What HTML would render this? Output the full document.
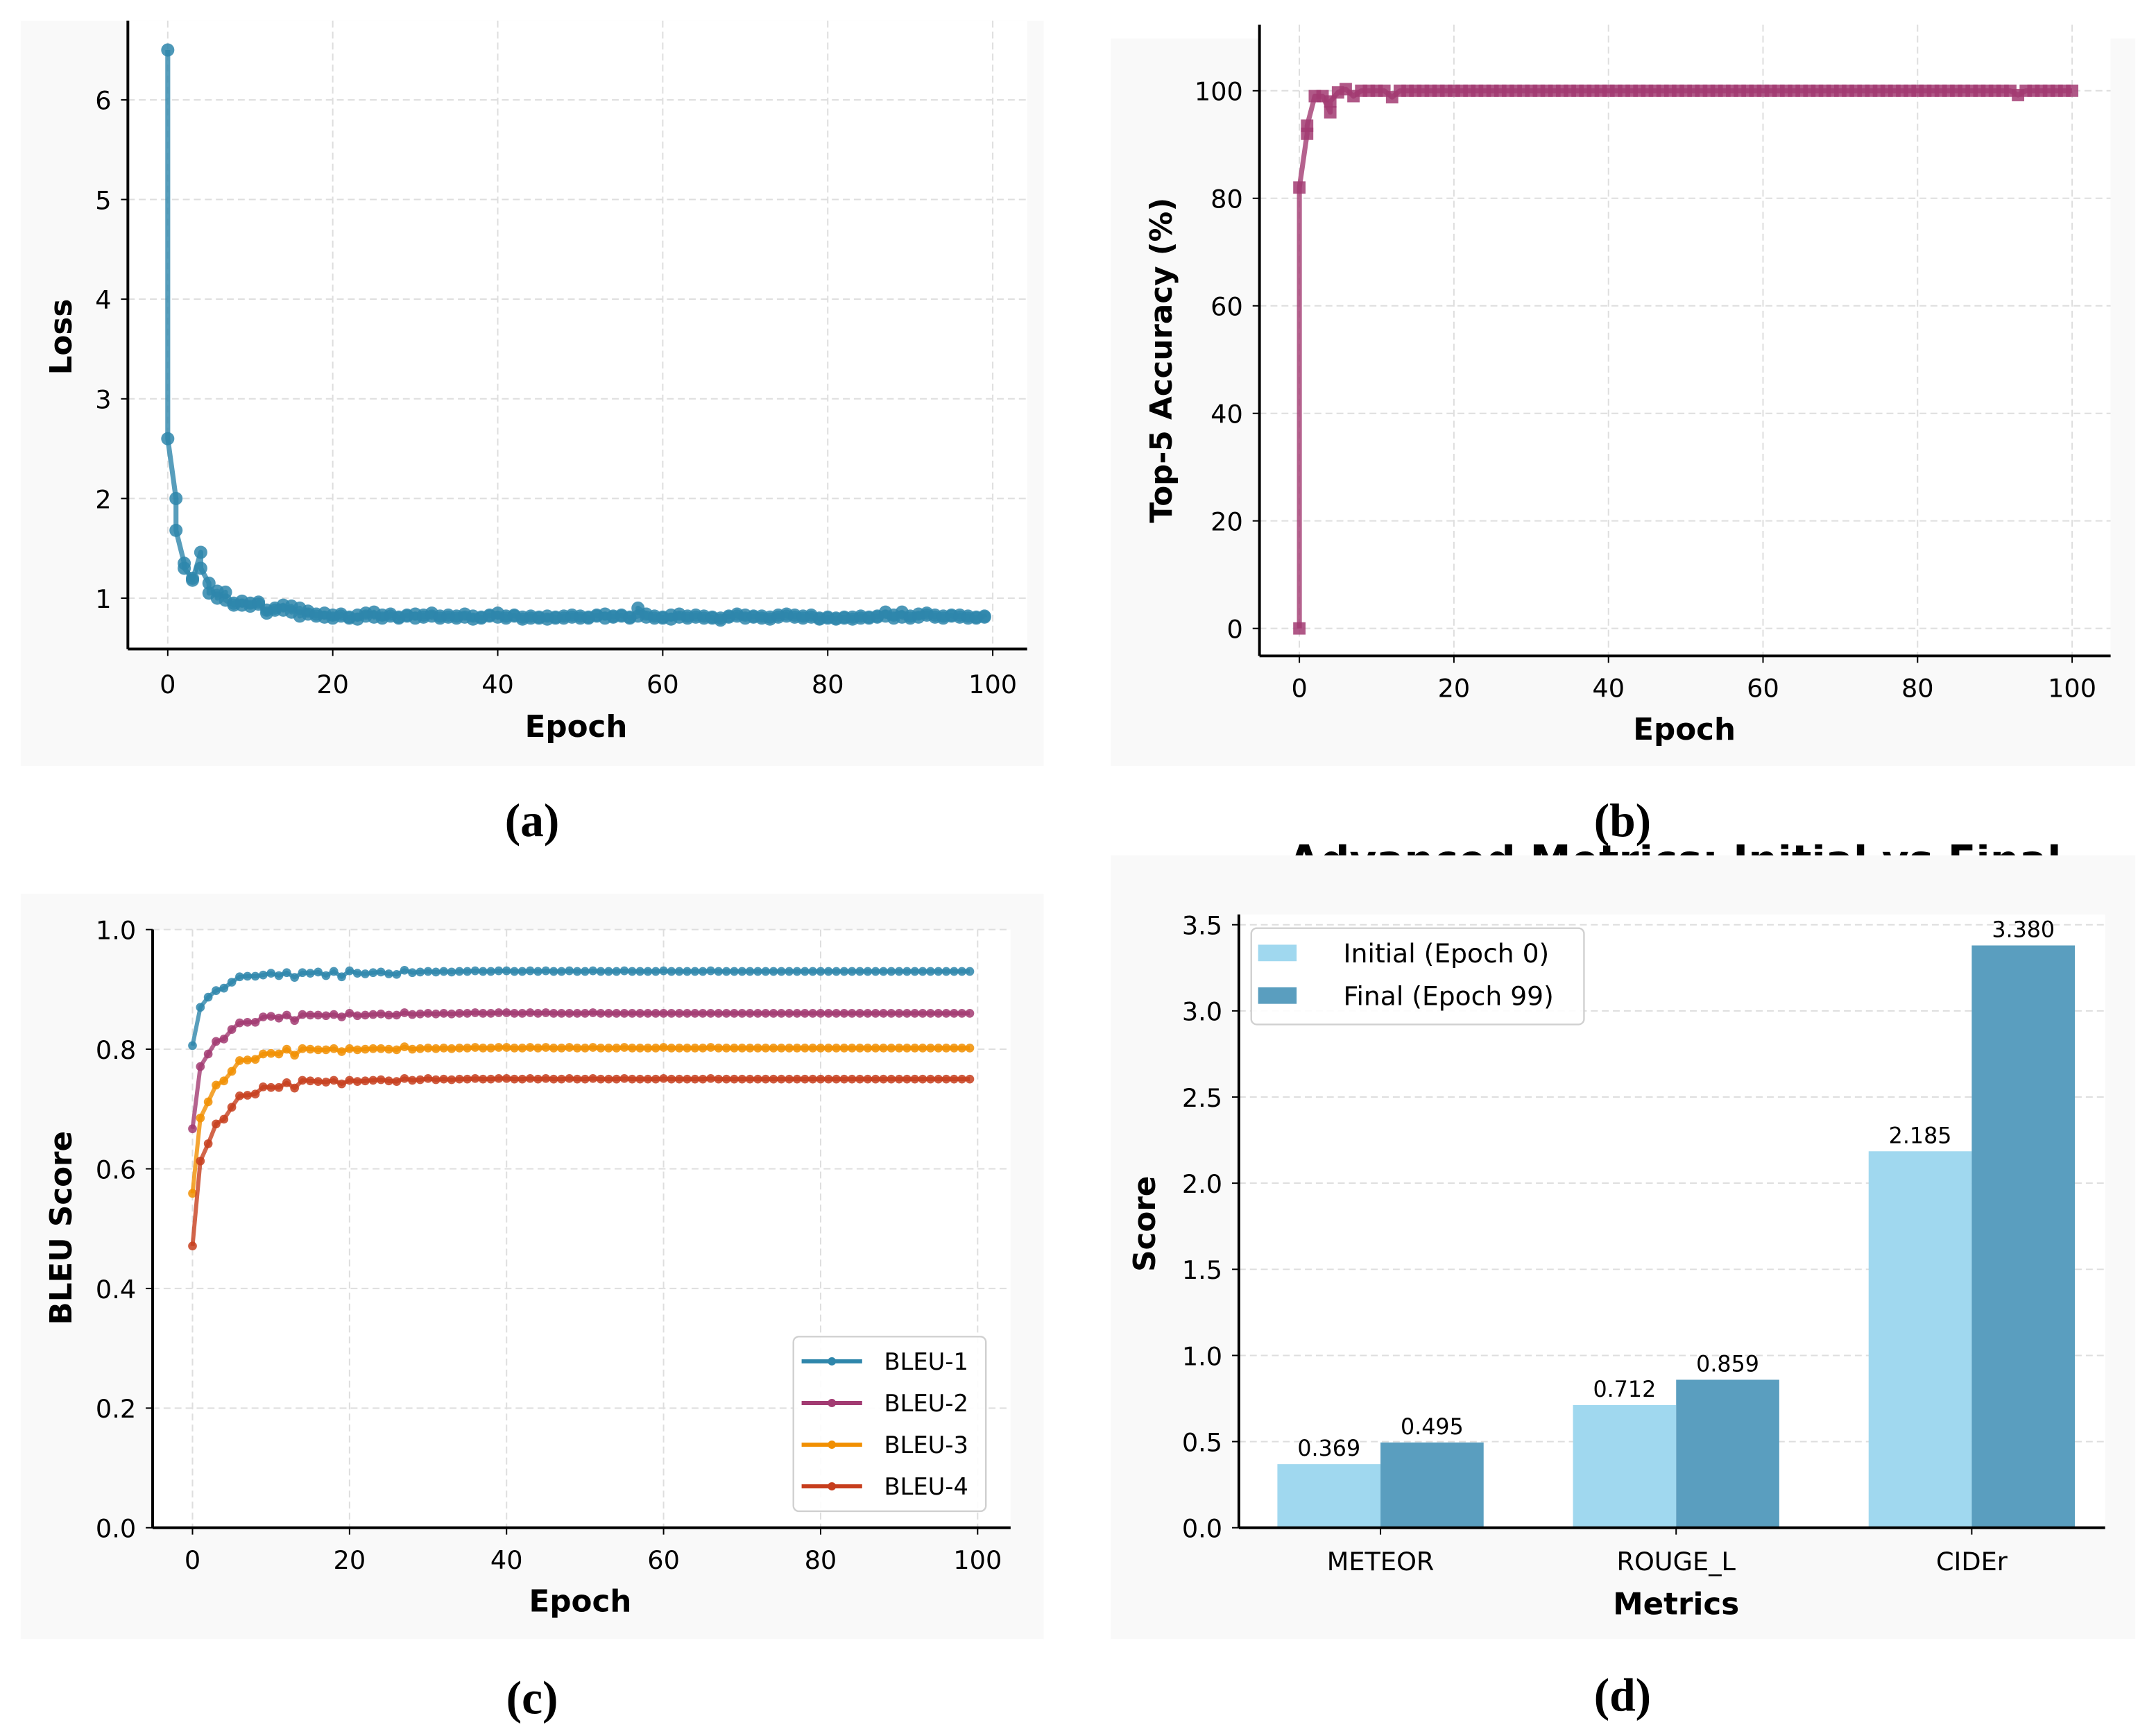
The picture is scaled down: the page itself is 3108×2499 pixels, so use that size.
<!DOCTYPE html>
<html><head><meta charset="utf-8"><style>
html,body{margin:0;padding:0;background:#fff;}
svg{display:block;}
text{font-family:"DejaVu Sans","Liberation Sans",sans-serif;}
</style></head><body>
<svg id="fig" xmlns="http://www.w3.org/2000/svg" width="3108" height="2499" viewBox="0 0 1568 1261" preserveAspectRatio="none">
<defs><clipPath id="titleclip"><rect x="800" y="614" width="760" height="10"/></clipPath></defs>
</svg>
<script>
// ---- Panel (a): loss ----
const lossValues = [6.5,2.6,2.0,1.68,1.35,1.3,1.2,1.18,1.46,1.3,1.15,1.05,1.07,1.0,1.06,0.98,0.93,0.95,0.97,0.93,
0.95,0.92,0.94,0.96,0.85,0.88,0.88,0.9,0.93,0.88,0.92,0.86,0.9,0.82,0.87,0.84,0.84,0.82,0.85,0.81,
0.83,0.8,0.82,0.84,0.8,0.81,0.83,0.79,0.85,0.82,0.86,0.81,0.83,0.8,0.82,0.84,0.81,0.8,0.83,0.82,
0.84,0.8,0.83,0.81,0.82,0.85,0.8,0.82,0.81,0.83,0.8,0.82,0.84,0.81,0.79,0.82,0.81,0.8,0.83,0.82,
0.85,0.81,0.82,0.8,0.83,0.82,0.81,0.79,0.8,0.82,0.8,0.81,0.79,0.82,0.81,0.8,0.82,0.8,0.81,0.83,
0.8,0.82,0.81,0.8,0.83,0.82,0.84,0.8,0.82,0.81,0.83,0.82,0.81,0.8,0.82,0.9,0.84,0.81,0.8,0.82,
0.81,0.8,0.83,0.79,0.84,0.81,0.8,0.82,0.81,0.83,0.8,0.82,0.81,0.8,0.78,0.8,0.82,0.81,0.84,0.82,
0.8,0.83,0.81,0.82,0.8,0.82,0.81,0.79,0.83,0.81,0.84,0.82,0.81,0.83,0.82,0.8,0.83,0.81,0.8,0.79,
0.8,0.81,0.79,0.8,0.81,0.8,0.79,0.81,0.8,0.82,0.81,0.8,0.82,0.81,0.86,0.82,0.8,0.83,0.86,0.81,
0.8,0.82,0.84,0.81,0.83,0.85,0.81,0.83,0.82,0.8,0.83,0.82,0.81,0.83,0.8,0.82,0.8,0.81,0.82,0.81];
const lossYTicks = [1,2,3,4,5,6];
const epochTicks = [0,20,40,60,80,100];
// ---- Panel (b): accuracy ----
const accEpochs = [0,0,1,1,2,3,4,4,5,6,7,8,9,10,11,12,
13,14,15,16,17,18,19,20,21,22,23,24,25,26,27,28,29,30,31,32,
33,34,35,36,37,38,39,40,41,42,43,44,45,46,47,48,49,50,51,52,
53,54,55,56,57,58,59,60,61,62,63,64,65,66,67,68,69,70,71,72,
73,74,75,76,77,78,79,80,81,82,83,84,85,86,87,88,89,90,91,92,
93,94,95,96,97,98,99,100];
const accValues = [0,82,92,93.5,99,99,96,98,99.7,100.3,99,100,100,100,100,98.8,
100,100,100,100,100,100,100,100,100,100,100,100,100,100,100,100,100,100,100,100,
100,100,100,100,100,100,100,100,100,100,100,100,100,100,100,100,100,100,100,100,
100,100,100,100,100,100,100,100,100,100,100,100,100,100,100,100,100,100,100,100,
100,100,100,100,100,100,100,100,100,100,100,100,100,100,100,100,100,100,100,100,
99.2,100,100,100,100,100,100,100];
const accYTicks = [0,20,40,60,80,100];
// ---- Panel (c): BLEU ----
const bleuNames = ["BLEU-1","BLEU-2","BLEU-3","BLEU-4"];
const bleu1 = [0.806,0.870,0.887,0.898,0.902,0.912,0.921,0.922,0.922,0.924,0.927,0.923,0.928,0.920,0.928,0.927,0.929,0.923,0.930,0.921,0.931,0.927,0.926,0.928,0.929,0.926,0.925,0.932,0.928,0.929,0.930,0.929,0.930,0.929,0.930,0.930,0.931,0.930,0.930,0.931,0.931,0.930,0.930,0.931,0.930,0.931,0.930,0.930,0.931,0.930,0.930,0.931,0.930,0.930,0.930,0.931,0.930,0.930,0.930,0.930,0.931,0.930,0.930,0.930,0.930,0.930,0.931,0.930,0.930,0.930,0.930,0.930,0.930,0.930,0.930,0.930,0.930,0.930,0.930,0.930,0.930,0.930,0.930,0.930,0.930,0.930,0.930,0.930,0.930,0.930,0.930,0.930,0.930,0.930,0.930,0.930,0.930,0.930,0.930,0.930];
const bleu2 = [0.667,0.771,0.792,0.813,0.817,0.833,0.844,0.845,0.845,0.854,0.855,0.852,0.857,0.848,0.858,0.857,0.857,0.856,0.858,0.854,0.860,0.856,0.857,0.858,0.859,0.857,0.857,0.861,0.858,0.859,0.860,0.859,0.860,0.859,0.860,0.860,0.861,0.860,0.860,0.861,0.861,0.860,0.860,0.861,0.860,0.861,0.860,0.860,0.860,0.860,0.860,0.861,0.860,0.860,0.860,0.860,0.860,0.860,0.860,0.860,0.860,0.860,0.860,0.860,0.860,0.860,0.860,0.860,0.860,0.860,0.860,0.860,0.860,0.860,0.860,0.860,0.860,0.860,0.860,0.860,0.860,0.860,0.860,0.860,0.860,0.860,0.860,0.860,0.860,0.860,0.860,0.860,0.860,0.860,0.860,0.860,0.860,0.860,0.860,0.860];
const bleu3 = [0.559,0.685,0.712,0.740,0.747,0.763,0.781,0.782,0.783,0.792,0.793,0.792,0.800,0.790,0.801,0.800,0.799,0.799,0.801,0.796,0.801,0.799,0.800,0.801,0.801,0.800,0.799,0.804,0.800,0.801,0.802,0.801,0.802,0.801,0.802,0.802,0.803,0.802,0.802,0.803,0.803,0.802,0.802,0.803,0.802,0.803,0.802,0.802,0.803,0.802,0.802,0.803,0.802,0.802,0.802,0.803,0.802,0.802,0.802,0.802,0.803,0.802,0.802,0.802,0.802,0.802,0.803,0.802,0.802,0.802,0.802,0.802,0.802,0.802,0.802,0.802,0.802,0.802,0.802,0.802,0.802,0.802,0.802,0.802,0.802,0.802,0.802,0.802,0.802,0.802,0.802,0.802,0.802,0.802,0.802,0.802,0.802,0.802,0.802,0.802];
const bleu4 = [0.471,0.613,0.642,0.675,0.683,0.703,0.722,0.723,0.725,0.737,0.736,0.736,0.744,0.735,0.748,0.747,0.746,0.745,0.748,0.742,0.748,0.746,0.747,0.748,0.749,0.747,0.746,0.751,0.748,0.749,0.751,0.749,0.750,0.749,0.750,0.750,0.751,0.750,0.750,0.751,0.751,0.750,0.750,0.751,0.750,0.751,0.750,0.750,0.751,0.750,0.750,0.751,0.750,0.750,0.750,0.751,0.750,0.750,0.750,0.750,0.751,0.750,0.750,0.750,0.750,0.750,0.751,0.750,0.750,0.750,0.750,0.750,0.750,0.750,0.750,0.750,0.750,0.750,0.750,0.750,0.750,0.750,0.750,0.750,0.750,0.750,0.750,0.750,0.750,0.750,0.750,0.750,0.750,0.750,0.750,0.750,0.750,0.750,0.750,0.750];
const bleuYTicks = [0.0,0.2,0.4,0.6,0.8,1.0];
// ---- Panel (d): bars ----
const metricCats = ["METEOR","ROUGE_L","CIDEr"];
const initialScores = [0.369,0.712,2.185];
const finalScores = [0.495,0.859,3.380];
const scoreYTicks = [0.0,0.5,1.0,1.5,2.0,2.5,3.0,3.5];

const NS = "http://www.w3.org/2000/svg";
const svg = document.getElementById('fig');
function mk(tag, attrs, name, parent){
  const el = document.createElementNS(NS, tag);
  for (const k in attrs) el.setAttribute(k, attrs[k]);
  
  
  (parent||svg).appendChild(el);
  return el;
}
function txt(x,y,s,size,name,opts){
  opts = opts||{};
  const el = mk('text',{x:x,y:y,'font-size':size,'text-anchor':opts.anchor||'middle',fill:'#000','font-weight':opts.bold?'bold':'normal'},name,opts.parent);
  if (opts.rot) el.setAttribute('transform','rotate(-90 '+x+' '+y+')');
  if (opts.family) el.setAttribute('style','font-family:'+opts.family);
  if (opts.clip) el.setAttribute('clip-path', opts.clip);
  el.textContent = s;
  return el;
}
function lin(x1,y1,x2,y2,stroke,w,name,dash){
  const a = {x1:x1,y1:y1,x2:x2,y2:y2,stroke:stroke,'stroke-width':w};
  if (dash) a['stroke-dasharray']=dash;
  return mk('line',a,name);
}
function scale(d0,d1,r0,r1){ return v => r0 + (v-d0)/(d1-d0)*(r1-r0); }
function fmt1(v){ return v.toFixed(1); }
const capFont='"Liberation Serif",serif';

mk('rect',{x:15,y:15,width:744,height:542,fill:'#f9f9f9'},'panel-a-background');
mk('rect',{x:808,y:28,width:745,height:529,fill:'#f9f9f9'},'panel-b-background');
mk('rect',{x:15,y:650,width:744,height:542,fill:'#f9f9f9'},'panel-c-background');
txt(1218,636,'Advanced Metrics: Initial vs Final',30,'panel-d-title',{bold:true,clip:'url(#titleclip)'});
mk('rect',{x:808,y:622,width:745,height:570,fill:'#f9f9f9'},'panel-d-background');

function axesFrame(p){
  mk('rect',{x:p.L,y:p.T,width:p.R-p.L,height:p.B-p.T,fill:'#fff'},p.id+'-plot-area');
}

// ===== Panel A =====
(function(){
  const p={id:'panel-a',L:93,R:747,T:15,B:472};
  axesFrame(p);
  const X=scale(0,100,122,722), Y=scale(1,6,435,72.6);
  epochTicks.forEach(t=>{ lin(X(t),p.T,X(t),p.B,'#dedede',1,'grid-x-'+t,'5,3'); });
  lossYTicks.forEach(t=>{ lin(p.L,Y(t),p.R,Y(t),'#dedede',1,'grid-y-'+t,'5,3'); });
  const pts = lossValues.map((v,i)=>[X(Math.floor(i/2)),Y(v)]);
  mk('polyline',{points:pts.map(q=>q.join(',')).join(' '),fill:'none',stroke:'#2E86AB','stroke-width':3.6,'stroke-opacity':0.8,'stroke-linejoin':'round'},'loss-line');
  pts.forEach((q,i)=>{ mk('circle',{cx:q[0],cy:q[1],r:4.8,fill:'#2E86AB','fill-opacity':0.85},'loss-point-'+i); });
  lin(p.L,p.T,p.L,p.B,'#000',2,'y-axis-spine');
  lin(p.L,p.B,p.R,p.B,'#000',2,'x-axis-spine');
  epochTicks.forEach(t=>{ lin(X(t),p.B,X(t),p.B+5,'#000',1,'x-tick-'+t); txt(X(t),p.B+32,String(t),18.5,'x-tick-label-'+t); });
  lossYTicks.forEach(t=>{ lin(p.L-5,Y(t),p.L,Y(t),'#000',1,'y-tick-'+t); txt(p.L-12,Y(t)+7,String(t),18.5,'y-tick-label-'+t,{anchor:'end'}); });
  txt(419,536,'Epoch',22,'x-axis-title',{bold:true});
  txt(52,245,'Loss',22,'y-axis-title',{bold:true,rot:true});
  txt(387,608,'(a)',34,'caption-a',{family:capFont,bold:true});
})();

// ===== Panel B =====
(function(){
  const p={id:'panel-b',L:916,R:1535,T:18,B:477};
  axesFrame(p);
  const X=scale(0,100,945,1507), Y=scale(0,100,457,66);
  epochTicks.forEach(t=>{ lin(X(t),p.T,X(t),p.B,'#dedede',1,'grid-x-'+t,'5,3'); });
  accYTicks.forEach(t=>{ lin(p.L,Y(t),p.R,Y(t),'#dedede',1,'grid-y-'+t,'5,3'); });
  const pts = accValues.map((v,i)=>[X(accEpochs[i]),Y(v)]);
  mk('polyline',{points:pts.map(q=>q.join(',')).join(' '),fill:'none',stroke:'#A23B72','stroke-width':3.6,'stroke-opacity':0.8,'stroke-linejoin':'round'},'accuracy-line');
  pts.forEach((q,i)=>{ mk('rect',{x:q[0]-4.5,y:q[1]-4.5,width:9,height:9,fill:'#A23B72','fill-opacity':0.85},'accuracy-point-'+i); });
  lin(p.L,p.T,p.L,p.B,'#000',2,'y-axis-spine');
  lin(p.L,p.B,p.R,p.B,'#000',2,'x-axis-spine');
  epochTicks.forEach(t=>{ lin(X(t),p.B,X(t),p.B+5,'#000',1,'x-tick-'+t); txt(X(t),p.B+30,String(t),18.5,'x-tick-label-'+t); });
  accYTicks.forEach(t=>{ lin(p.L-5,Y(t),p.L,Y(t),'#000',1,'y-tick-'+t); txt(p.L-12,Y(t)+7,String(t),18.5,'y-tick-label-'+t,{anchor:'end'}); });
  txt(1225,538,'Epoch',22,'x-axis-title',{bold:true});
  txt(852,262,'Top-5 Accuracy (%)',22,'y-axis-title',{bold:true,rot:true});
  txt(1180,608,'(b)',34,'caption-b',{family:capFont,bold:true});
})();

// ===== Panel C =====
(function(){
  const p={id:'panel-c',L:111,R:735,T:676,B:1111};
  axesFrame(p);
  const X=scale(0,100,140,711), Y=scale(0,1,1111,676);
  epochTicks.forEach(t=>{ lin(X(t),p.T,X(t),p.B,'#dedede',1,'grid-x-'+t,'5,3'); });
  bleuYTicks.forEach(t=>{ lin(p.L,Y(t),p.R,Y(t),'#dedede',1,'grid-y-'+fmt1(t),'5,3'); });
  const series=[bleu1,bleu2,bleu3,bleu4];
  const colors=['#2E86AB','#A23B72','#F18F01','#C73E1D'];
  series.forEach((s,k)=>{
    const pts=s.map((v,i)=>[X(i),Y(v)]);
    mk('polyline',{points:pts.map(q=>q.join(',')).join(' '),fill:'none',stroke:colors[k],'stroke-width':3,'stroke-opacity':0.8,'stroke-linejoin':'round'},bleuNames[k].toLowerCase()+'-line');
    pts.forEach((q,i)=>{ mk('circle',{cx:q[0],cy:q[1],r:3.2,fill:colors[k],'fill-opacity':0.85},bleuNames[k].toLowerCase()+'-point-'+i); });
  });
  lin(p.L,p.T,p.L,p.B,'#000',2,'y-axis-spine');
  lin(p.L,p.B,p.R,p.B,'#000',2,'x-axis-spine');
  epochTicks.forEach(t=>{ lin(X(t),p.B,X(t),p.B+5,'#000',1,'x-tick-'+t); txt(X(t),p.B+30,String(t),18.5,'x-tick-label-'+t); });
  bleuYTicks.forEach(t=>{ lin(p.L-5,Y(t),p.L,Y(t),'#000',1,'y-tick-'+fmt1(t)); txt(p.L-12,Y(t)+7,fmt1(t),18.5,'y-tick-label-'+fmt1(t),{anchor:'end'}); });
  txt(422,1172,'Epoch',22,'x-axis-title',{bold:true});
  txt(52,893,'BLEU Score',22,'y-axis-title',{bold:true,rot:true});
  mk('rect',{x:577,y:972,width:140,height:127,rx:4,fill:'#fff','fill-opacity':0.9,stroke:'#d0d0d0','stroke-width':1.2},'legend-box');
  bleuNames.forEach((n,k)=>{
    const y=990+k*30.3;
    lin(583,y,627,y,colors[k],3,'legend-line-'+n.toLowerCase());
    mk('circle',{cx:605,cy:y,r:3,fill:colors[k]},'legend-marker-'+n.toLowerCase());
    txt(643,y+6,n,17,'legend-entry-'+n.toLowerCase(),{anchor:'start'});
  });
  txt(387,1246,'(c)',34,'caption-c',{family:capFont,bold:true});
})();

// ===== Panel D =====
(function(){
  const p={id:'panel-d',L:901,R:1531,T:665,B:1111};
  axesFrame(p);
  const Y=scale(0,3.5,1111,672.5);
  const catX = i => 1004 + i*215;
  const bw = 75;
  scoreYTicks.forEach(t=>{ lin(p.L,Y(t),p.R,Y(t),'#dedede',1,'grid-y-'+fmt1(t),'5,3'); });
  metricCats.forEach((c,i)=>{
    const cx=catX(i);
    mk('rect',{x:cx-bw,y:Y(initialScores[i]),width:bw,height:Y(0)-Y(initialScores[i]),fill:'#A0D8EF'},'bar-initial-'+c.toLowerCase());
    mk('rect',{x:cx,y:Y(finalScores[i]),width:bw,height:Y(0)-Y(finalScores[i]),fill:'#5A9EBF'},'bar-final-'+c.toLowerCase());
    txt(cx-bw/2,Y(initialScores[i])-6,initialScores[i].toFixed(3),16,'value-label-initial-'+c.toLowerCase());
    txt(cx+bw/2,Y(finalScores[i])-6,finalScores[i].toFixed(3),16,'value-label-final-'+c.toLowerCase());
    lin(cx,p.B,cx,p.B+5,'#000',1,'x-tick-'+c.toLowerCase());
    txt(cx,p.B+31,c,18.5,'x-tick-label-'+c.toLowerCase());
  });
  lin(p.L,p.T,p.L,p.B,'#000',2,'y-axis-spine');
  lin(p.L,p.B,p.R,p.B,'#000',2,'x-axis-spine');
  scoreYTicks.forEach(t=>{ lin(p.L-5,Y(t),p.L,Y(t),'#000',1,'y-tick-'+fmt1(t)); txt(p.L-12,Y(t)+7,fmt1(t),18.5,'y-tick-label-'+fmt1(t),{anchor:'end'}); });
  txt(1219,1174,'Metrics',22,'x-axis-title',{bold:true});
  txt(840,890,'Score',22,'y-axis-title',{bold:true,rot:true});
  mk('rect',{x:910,y:675,width:242,height:70,rx:4,fill:'#fff','fill-opacity':0.9,stroke:'#d0d0d0','stroke-width':1.2},'legend-box');
  mk('rect',{x:915,y:687,width:28,height:12,fill:'#A0D8EF'},'legend-swatch-initial');
  txt(977,700,'Initial (Epoch 0)',19,'legend-entry-initial',{anchor:'start'});
  mk('rect',{x:915,y:718,width:28,height:12,fill:'#5A9EBF'},'legend-swatch-final');
  txt(977,731,'Final (Epoch 99)',19,'legend-entry-final',{anchor:'start'});
  txt(1180,1244,'(d)',34,'caption-d',{family:capFont,bold:true});
})();
</script>
</body></html>
